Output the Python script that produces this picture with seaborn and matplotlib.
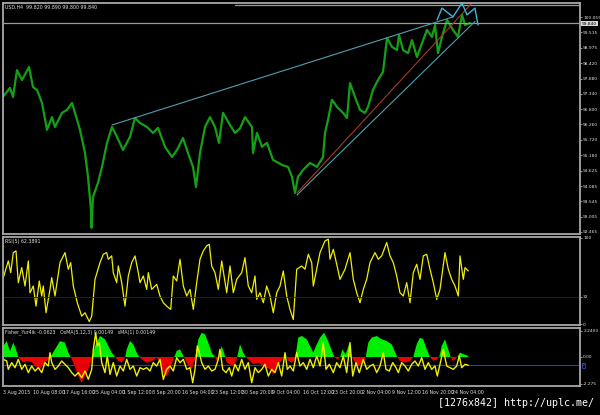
import matplotlib
matplotlib.use("Agg")
import matplotlib.pyplot as plt
import seaborn as sns
import numpy as np
import pandas as pd

# ---------------- data ----------------
price_x = [3, 10, 13, 17, 22, 29, 33, 37, 42, 47, 52, 55, 62, 67, 72, 75, 80, 85, 88, 91, 91.5, 93, 98, 102,
           107, 112, 117, 123, 130, 135, 140, 147, 153, 158, 165, 172, 177, 183, 188, 193, 196, 200, 205, 210,
           215, 219, 223, 230, 235, 240, 245, 252, 253, 257, 262, 267, 273, 282, 288, 292, 295, 298, 303, 310,
           317, 323, 325, 328, 332, 337, 343, 347, 350, 355, 360, 365, 368, 373, 378, 383, 387, 392, 397, 399,
           403, 408, 412, 417, 422, 427, 432, 435, 438, 442, 447, 453, 458, 462, 465, 470]
price_close = [97.24, 97.55, 97.23, 98.18, 97.83, 98.29, 97.58, 97.48, 97.02, 96.07, 96.52, 96.17, 96.67, 96.77,
               97.02, 96.67, 96.07, 95.25, 94.41, 93.24, 92.61, 93.70, 94.20, 94.76, 95.61, 96.17, 95.82, 95.36,
               95.82, 96.49, 96.31, 96.17, 95.96, 96.14, 95.47, 95.11, 95.36, 95.78, 95.25, 94.76, 94.05, 95.25,
               96.17, 96.52, 96.17, 95.61, 96.67, 96.24, 95.96, 96.12, 96.52, 96.17, 95.25, 95.96, 95.47, 95.61,
               95.01, 94.83, 94.76, 94.41, 93.84, 94.41, 94.65, 94.90, 94.76, 95.11, 95.96, 96.42, 97.13, 96.88,
               96.67, 96.49, 97.72, 97.23, 96.77, 96.67, 96.88, 97.48, 97.83, 98.11, 99.31, 99.00, 98.89, 99.42,
               98.89, 98.78, 99.24, 98.64, 99.13, 99.60, 99.35, 99.77, 98.78, 99.35, 99.95, 99.60, 99.35, 100.13,
               99.77, 99.84]

upper_line_x = [112, 453]
upper_line_p = [96.24, 100.06]
lower_line_x = [297, 475]
lower_line_p = [93.77, 99.90]
red_line_x = [297, 472]
red_line_p = [93.84, 100.55]
zigzag_x = [437, 442, 453, 462, 467, 475, 478]
zigzag_p = [99.95, 100.37, 100.06, 100.55, 100.13, 100.37, 99.77]
current_price = 99.840
top_level = 100.49

price_ticks = [100.055, 99.515, 98.975, 98.420, 97.880, 97.340, 96.800, 96.260, 95.720, 95.180,
               94.625, 94.085, 93.545, 93.005, 92.465]

rsi_x = [3.3, 8.3, 10.7, 13.3, 16, 18.3, 21.7, 25, 28.3, 30, 33.3, 36, 39.3, 41.7, 43.3, 46, 50, 51.7, 55, 60,
         65, 68.3, 70.7, 73.3, 77.3, 81.7, 85, 89.3, 91.7, 95, 100, 103.3, 106.7, 108.3, 111.7, 113.3, 116.7,
         118.3, 121.7, 125, 128.3, 131.7, 135, 138.3, 140, 143.3, 146.7, 148.3, 151.7, 156.7, 160, 163.3, 166.7,
         170.7, 173.3, 176.7, 180, 183.3, 186.7, 190, 193.3, 196.7, 200, 203.3, 206.7, 209.3, 211.7, 215, 218.3,
         221.7, 226.7, 230, 233.3, 236.7, 241.7, 245, 248.3, 251.7, 255, 256.7, 260, 263.3, 266.7, 270, 273.3,
         276.7, 280, 283.3, 286.7, 290, 293.3, 296.7, 301.7, 305, 308.3, 311.7, 313.3, 316.7, 320, 325, 328.3,
         330, 333.3, 336.7, 340, 345, 350, 353.3, 356.7, 360, 363.3, 366.7, 370, 375, 378.3, 381.7, 386.7, 390,
         393.3, 396.7, 400, 403.3, 406.7, 410, 413.3, 416.7, 420, 423.3, 426.7, 430, 433.3, 436.7, 440, 445,
         448.3, 451.7, 455, 458.3, 460, 463.3, 465, 468.3]
rsi_val = [53.9, 73.3, 59.7, 82.9, 84.9, 48.1, 65.5, 44.2, 73.3, 36.4, 44.2, 20.9, 50.0, 32.6, 44.2, 13.2, 40.3,
           53.9, 32.6, 71.3, 82.9, 63.6, 71.3, 44.2, 24.8, 9.3, 13.2, 3.0, 9.3, 51.9, 71.3, 81.0, 82.9, 75.2,
           79.1, 59.7, 48.1, 67.4, 48.1, 20.9, 55.8, 71.3, 79.1, 59.7, 48.1, 55.8, 40.3, 59.7, 40.3, 46.1, 32.6,
           24.8, 20.9, 17.1, 55.8, 50.0, 75.2, 44.2, 32.6, 40.3, 17.1, 48.1, 75.2, 84.9, 90.7, 92.6, 67.4, 59.7,
           40.3, 73.3, 36.4, 67.4, 36.4, 51.9, 59.7, 77.1, 44.2, 36.4, 55.8, 28.7, 36.4, 24.8, 44.2, 32.6, 13.2,
           36.4, 44.2, 61.6, 32.6, 17.1, 5.4, 63.6, 67.4, 63.6, 81.0, 71.3, 44.2, 63.6, 82.9, 96.5, 98.5, 75.2,
           86.8, 69.4, 51.9, 63.6, 82.9, 51.9, 36.4, 24.8, 40.3, 51.9, 71.3, 82.9, 75.2, 79.1, 94.6, 79.1, 71.3,
           55.8, 36.4, 32.6, 48.1, 24.8, 59.7, 69.4, 51.9, 79.1, 81.0, 63.6, 48.1, 28.7, 40.3, 82.9, 63.6, 51.9,
           44.2, 32.6, 79.1, 51.9, 65.5, 61.6]
rsi_level = 32

fisher_x = [3.3, 6.7, 8.3, 11.7, 15.0, 18.3, 21.7, 25.0, 28.3, 31.7, 35.0, 38.3, 41.7, 45.0, 48.3, 50.0, 51.7,
            55.0, 58.3, 61.7, 65.0, 68.3, 71.7, 75.0, 78.3, 81.7, 85.0, 88.3, 91.7, 93.3, 95.7, 97.3, 99.3, 101.7,
            105.0, 107.3, 110.0, 113.3, 116.7, 120.0, 123.3, 126.7, 130.0, 133.3, 136.7, 140.0, 143.3, 146.7,
            150.0, 153.3, 156.7, 160.0, 163.3, 166.7, 170.0, 173.3, 176.7, 180.0, 183.3, 186.7, 190.0, 192.7,
            195.0, 197.3, 199.3, 201.7, 205.0, 208.3, 211.7, 215.0, 218.3, 220.0, 222.7, 226.0, 229.3, 231.7,
            235.0, 238.3, 241.7, 245.0, 248.3, 251.7, 255.0, 258.3, 261.7, 265.0, 268.3, 271.7, 275.0, 278.3,
            281.7, 285.0, 287.3, 290.0, 293.3, 296.7, 300.0, 303.3, 306.7, 310.0, 313.3, 316.7, 320.0, 323.3,
            326.0, 329.3, 333.3, 336.7, 340.0, 343.3, 346.7, 350.0, 352.7, 356.0, 359.3, 363.3, 366.7, 370.0,
            373.3, 376.7, 380.0, 383.3, 386.0, 389.3, 392.7, 396.0, 398.3, 401.7, 405.0, 408.3, 411.7, 415.0,
            418.3, 421.7, 425.0, 428.3, 431.7, 435.0, 437.3, 440.0, 443.3, 446.7, 450.0, 453.3, 456.7, 459.3,
            461.7, 465.0, 468.3]
fisher_val = [-0.20, -0.34, -1.05, -0.48, -0.91, -0.20, -1.05, -0.62, -1.33, -0.77, -1.19, -0.91, -1.33, -0.48,
              -0.77, 0.37, -0.48, -1.05, -0.77, -0.34, -0.62, -0.91, -1.33, -1.62, -1.33, -1.76, -1.19, -1.90,
              -1.05, 0.65, 2.07, 0.94, 1.22, -0.48, -1.33, 0.09, -1.48, -0.48, -1.62, -0.77, -1.19, -0.20, -1.05,
              -0.77, -1.62, -0.91, -1.05, -0.91, -1.19, -0.48, -0.77, -0.20, -1.90, -1.05, -0.77, -1.19, -0.06,
              -0.48, -0.20, -1.05, -0.91, -2.19, -1.05, 0.94, 0.37, -0.48, -1.05, -0.77, -1.19, -1.05, -0.20,
              0.65, -1.05, -1.33, -0.91, -1.62, -0.62, -1.19, -0.20, -1.05, -0.48, -2.19, -0.91, -1.33, -1.05,
              -0.62, -1.62, -1.05, -1.33, -0.48, -1.62, 0.37, -1.05, -0.77, -1.19, 0.37, -0.77, -0.48, -1.05,
              -0.20, -0.91, 0.09, -0.77, 1.22, -1.05, -0.62, -1.33, -0.48, -0.91, 0.09, -1.33, 1.22, -1.62, -0.48,
              -1.33, -0.20, -1.05, -0.77, -0.62, -1.33, -0.77, 0.37, -1.05, -1.19, -0.48, -0.91, -1.33, -0.48,
              -0.77, -1.19, -0.62, -0.34, -0.77, -0.06, -1.05, -0.48, -1.05, -0.77, -1.62, -0.62, 0.65, -0.77,
              -0.91, -1.05, -0.77, 0.09, -0.91, -0.62, -0.71]
fisher_level = -0.71

osma_x = [3.3, 6.7, 10.0, 13.3, 16.0, 18.3, 20.0, 23.3, 26.7, 31.7, 36.7, 40.0, 45.0, 50.0, 55.0, 60.0, 65.0,
          68.3, 70.7, 73.3, 78.3, 81.7, 85.0, 88.3, 91.7, 95.0, 100.0, 105.0, 108.3, 111.7, 115.0, 118.3, 121.7,
          125.0, 126.7, 130.0, 133.3, 136.7, 139.3, 141.7, 146.7, 151.7, 156.7, 160.0, 163.3, 166.7, 170.0,
          173.3, 176.7, 180.0, 183.3, 186.7, 191.7, 195.0, 198.3, 201.7, 205.0, 208.3, 211.7, 215.0, 216.7,
          219.0, 221.7, 224.0, 226.7, 233.3, 236.7, 240.0, 243.3, 245.7, 248.3, 253.3, 258.3, 263.3, 270.0,
          273.3, 276.7, 280.0, 283.3, 285.3, 288.3, 291.7, 295.0, 298.3, 301.7, 306.7, 310.0, 313.3, 316.0,
          320.0, 324.0, 326.7, 330.0, 334.3, 337.3, 340.0, 342.3, 345.7, 349.0, 351.7, 354.0, 358.3, 363.3,
          365.7, 368.3, 371.7, 376.7, 381.7, 386.7, 391.7, 396.7, 400.0, 405.0, 410.0, 413.3, 416.7, 420.0,
          423.3, 426.7, 430.0, 433.3, 436.7, 439.3, 441.7, 445.0, 448.3, 450.7, 452.7, 455.0, 457.3, 460.0,
          464.0, 468.3]
osma_val = [0.94, 1.36, 0.51, 1.22, 0.65, 0.00, -0.20, -0.48, -0.34, -0.43, -0.91, -1.05, -0.48, -0.06, 0.65,
            1.36, 1.22, 0.37, 0.00, -0.48, -1.62, -2.19, -1.62, -1.05, -0.20, 0.94, 1.79, 1.51, 0.94, 0.37, 0.00,
            -0.34, -0.48, -0.06, 0.65, 1.36, 1.08, 0.37, 0.00, -0.20, -0.48, -0.34, -0.06, -0.48, -1.33, -1.62,
            -1.05, -0.20, 0.51, 0.65, 0.09, -0.48, -1.05, -0.20, 1.51, 2.07, 1.93, 1.22, 0.37, 0.00, -0.34, -0.06,
            0.94, 0.37, -0.48, -0.77, -0.20, 1.08, 0.37, 0.00, -0.20, -0.62, -0.48, -0.77, -1.05, -1.48, -0.91,
            -0.48, -0.06, 0.23, -0.34, -0.48, -0.20, 1.65, 1.79, 1.51, 0.94, 0.37, 0.94, 1.65, 2.07, 1.65, 0.94,
            0.00, -0.20, -0.06, 0.65, 0.23, 1.08, 0.00, -0.34, -0.77, -0.48, 0.00, 1.22, 1.65, 1.79, 1.51, 1.36,
            1.08, 0.09, -0.34, -0.48, -0.34, 0.00, 1.08, 1.65, 1.51, 0.65, 0.00, -0.34, -0.20, 0.00, 0.94, 1.51,
            0.65, 0.00, -0.34, -0.20, 0.00, 0.37, 0.23, 0.09]

date_pos = [3, 33, 63, 93, 123, 152, 182, 212, 242, 272, 303, 332, 362, 392, 422, 452]
date_labels = ["3 Aug 2015", "10 Aug 08:00", "17 Aug 16:00", "25 Aug 04:00", "1 Sep 12:00", "8 Sep 20:00",
               "16 Sep 04:00", "23 Sep 12:00", "30 Sep 20:00", "9 Oct 04:00", "16 Oct 12:00", "23 Oct 20:00",
               "2 Nov 04:00", "9 Nov 12:00", "16 Nov 20:00", "24 Nov 04:00"]

# ---------------- styling ----------------
sns.set_theme(style="dark", rc={"axes.facecolor": "black", "figure.facecolor": "black",
                                "axes.grid": False})
plt.rcParams["font.family"] = ["DejaVu Sans"]

GRID = "#a8a8a8"
TXT = "#e0e0e0"
FS = 3.4
FSY = 3.15

fig = plt.figure(figsize=(6.0, 4.15), dpi=100, facecolor="black")
L, W = 3 / 600, 577 / 600


def fy(top, bottom):
    return [L, 1 - bottom / 415, W, (bottom - top) / 415]


ax1 = fig.add_axes(fy(3, 234))
ax2 = fig.add_axes(fy(237, 325))
ax3 = fig.add_axes(fy(328, 386))

for ax in (ax1, ax2, ax3):
    ax.set_facecolor("black")
    ax.set_xlim(3, 580)
    for s in ax.spines.values():
        s.set_color(GRID)
        s.set_linewidth(1.3)
    ax.yaxis.tick_right()
    ax.tick_params(axis="y", colors=GRID, labelcolor=TXT, labelsize=FSY, length=1.5, width=0.6, pad=0.8,
                   left=False, right=True)

# ---- main price panel ----
dfp = pd.DataFrame({"x": price_x, "p": price_close})
sns.lineplot(data=dfp, x="x", y="p", ax=ax1, color="#14a014", linewidth=1.6, sort=False)
ax1.axhline(current_price, color="#9a9a9a", linewidth=0.9)
ax1.plot([235, 580], [top_level, top_level], color="#9a9a9a", linewidth=0.9)
sns.lineplot(x=upper_line_x, y=upper_line_p, ax=ax1, color="#4f9fb0", linewidth=0.8)
sns.lineplot(x=lower_line_x, y=lower_line_p, ax=ax1, color="#4f9fb0", linewidth=0.8)
sns.lineplot(x=red_line_x, y=red_line_p, ax=ax1, color="#a33a22", linewidth=0.8)
sns.lineplot(x=zigzag_x, y=zigzag_p, ax=ax1, color="#38b8d8", linewidth=1.0, sort=False)
ax1.set_ylim(92.39, 100.55)
ax1.set_yticks(price_ticks)
ax1.set_yticklabels([f"{v:.3f}" for v in price_ticks])
ax1.set_xticks([])
ax1.set_xlabel("")
ax1.set_ylabel("")
ax1.text(582, current_price - 0.03, f"{current_price:.3f}", fontsize=FSY, color="black", va="center", ha="left",
         bbox=dict(boxstyle="square,pad=0.12", fc="#d8d8d8", ec="none"), clip_on=False)
fig.text(5 / 600, 1 - 7 / 415, "USD,H4  99.820 99.890 99.800 99.840", fontsize=FS, color=TXT, va="center")

# ---- RSI panel ----
sns.lineplot(x=rsi_x, y=rsi_val, ax=ax2, color="#f0f000", linewidth=0.9)
ax2.axhline(rsi_level, color="#1c1c5c", linewidth=0.6)
ax2.set_ylim(-1, 101)
ax2.set_yticks([100, rsi_level, 0])
ax2.set_yticklabels(["100", str(rsi_level), "0"])
ax2.set_xticks([])
ax2.set_xlabel("")
ax2.set_ylabel("")
fig.text(5 / 600, 1 - 241 / 415, "RSI(5) 62.3891", fontsize=FS, color=TXT, va="center")

# ---- Fisher / OsMA panel ----
ox = np.array(osma_x)
ov = np.array(osma_val)
ax3.fill_between(ox, ov, 0, where=ov >= 0, interpolate=True, color="#00ee00", linewidth=0)
ax3.fill_between(ox, ov, 0, where=ov <= 0, interpolate=True, color="#ee0000", linewidth=0)
ax3.axhline(fisher_level, color="#2040c0", linewidth=0.8)
sns.lineplot(x=fisher_x, y=fisher_val, ax=ax3, color="#f0f000", linewidth=1.0)
ax3.set_ylim(-2.47, 2.47)
ax3.set_yticks([2.2403, 0.0, -2.275])
ax3.set_yticklabels(["2.2403", "0.00", "-2.275"])
ax3.text(582, fisher_level, "0", fontsize=3.0, color="#6080ff", va="center", ha="left",
         bbox=dict(boxstyle="square,pad=0.12", fc="black", ec="#3050d0", lw=0.5), clip_on=False)
ax3.set_xticks(date_pos)
ax3.set_xticklabels(date_labels, ha="left")
ax3.tick_params(axis="x", colors=GRID, labelcolor=TXT, labelsize=FS, length=1.5, width=0.6, pad=1.2)
ax3.set_xlabel("")
ax3.set_ylabel("")
fig.text(5 / 600, 1 - 332 / 415, "Fisher_Yur4ik -0.0623   OsMA(5,12,3) 0.00149   sMA(1) 0.00149",
         fontsize=FS, color=TXT, va="center")

fig.text(594 / 600, 1 - 403 / 415, "[1276x842] http://uplc.me/", fontsize=7.2, color="white",
         ha="right", va="center", family=["DejaVu Sans Mono"])

fig.savefig("out.png", dpi=100, facecolor="black")
